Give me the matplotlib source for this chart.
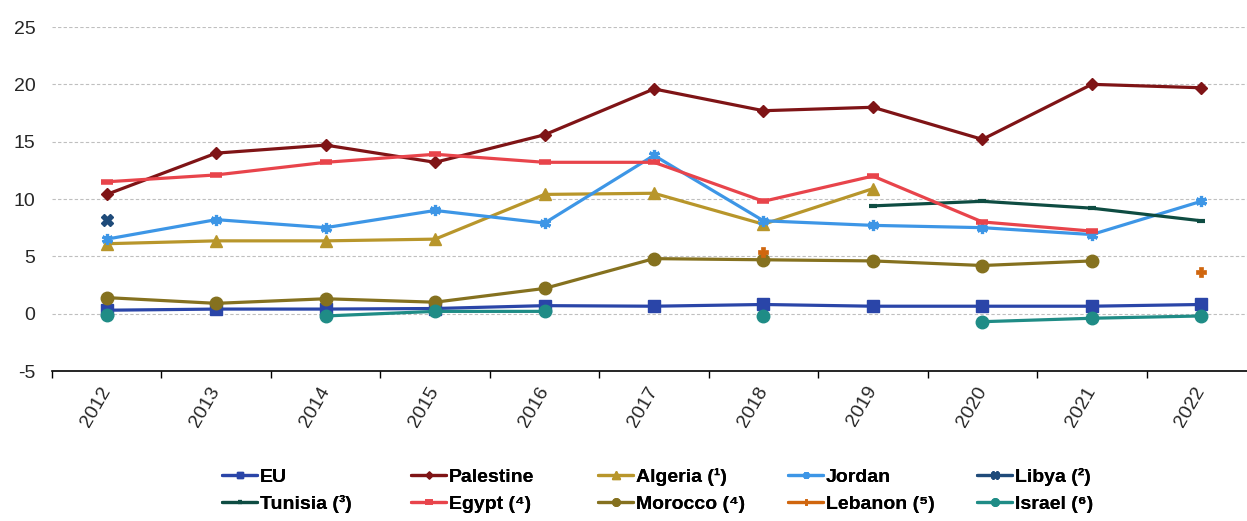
import numpy as np
import matplotlib
matplotlib.use("Agg")
import matplotlib.pyplot as plt
from matplotlib.ticker import FixedLocator, NullFormatter

nan = np.nan

years = [2012, 2013, 2014, 2015, 2016, 2017, 2018, 2019, 2020, 2021, 2022]

eu        = [0.3, 0.4, 0.4, 0.45, 0.7, 0.65, 0.8, 0.65, 0.65, 0.65, 0.8]
palestine = [10.4, 14.0, 14.7, 13.2, 15.6, 19.6, 17.7, 18.0, 15.2, 20.0, 19.7]
algeria   = [6.1, 6.35, 6.35, 6.5, 10.4, 10.5, 7.8, 10.9, nan, nan, nan]
jordan    = [6.5, 8.2, 7.5, 9.0, 7.9, 13.8, 8.1, 7.7, 7.5, 6.9, 9.8]
libya     = [8.2, nan, nan, nan, nan, nan, nan, nan, nan, nan, nan]
tunisia   = [nan, nan, nan, nan, nan, nan, nan, 9.4, 9.8, 9.2, 8.1]
egypt     = [11.5, 12.1, 13.2, 13.9, 13.2, 13.2, 9.8, 12.0, 8.0, 7.2, nan]
morocco   = [1.4, 0.9, 1.3, 1.0, 2.2, 4.8, 4.7, 4.6, 4.2, 4.6, nan]
lebanon   = [nan, nan, nan, nan, nan, nan, 5.4, nan, nan, nan, 3.6]
israel    = [-0.1, nan, -0.2, 0.2, 0.2, nan, -0.2, nan, -0.7, -0.4, -0.2]

labels = ["EU", "Palestine", "Algeria (¹)", "Jordan", "Libya (²)",
          "Tunisia (³)", "Egypt (⁴)", "Morocco (⁴)", "Lebanon (⁵)", "Israel (⁶)"]

series = [eu, palestine, algeria, jordan, libya,
          tunisia, egypt, morocco, lebanon, israel]

styles = [
    dict(color="#2A45A8", marker="s", ms=8, mew=1),
    dict(color="#7F1416", marker="D", ms=6, mew=1),
    dict(color="#B8962B", marker="^", ms=9, mew=1),
    dict(color="#3D96E6", marker=(6, 2, 0), ms=8, mew=2.3),
    dict(color="#1F4B7A", marker="X", ms=9, mew=1),
    dict(color="#0E4C42", marker="_", ms=6, mew=3),
    dict(color="#E8444B", marker="_", ms=9, mew=4),
    dict(color="#85711F", marker="o", ms=9, mew=1),
    dict(color="#D0660E", marker="P", ms=7, mew=0.5),
    dict(color="#1F8C86", marker="o", ms=9, mew=1),
]

plt.rcParams["font.family"] = ["Liberation Sans", "DejaVu Sans"]

fig = plt.figure(figsize=(12.47, 5.21), dpi=100)
ax = fig.add_axes([52 / 1247, 1 - 371 / 521, (1256 - 52) / 1247, (371 - 27) / 521])

lines = []
for vals, st, lab in zip(series, styles, labels):
    (ln,) = ax.plot(years, vals, color=st["color"], lw=2.3, marker=st["marker"],
                    ms=st["ms"], mew=st["mew"], mec=st["color"], mfc=st["color"],
                    label=lab, solid_capstyle="round", clip_on=False)
    lines.append(ln)

ax.set_xlim(2011.5, 2022.5)
ax.set_ylim(-5, 25)
ax.set_yticks([-5, 0, 5, 10, 15, 20, 25])
ax.set_yticklabels(["-5", "0", "5", "10", "15", "20", "25"])
ax.yaxis.grid(True, color="#BFBFBF", lw=0.8, ls=(0, (3, 2)))
ax.set_axisbelow(True)

ax.set_xticks(years)
ax.set_xticklabels([str(y) for y in years], rotation=60, ha="right",
                   va="center", rotation_mode="anchor")
ax.xaxis.set_minor_locator(FixedLocator([y - 0.5 for y in years] + [2022.5]))
ax.xaxis.set_minor_formatter(NullFormatter())
ax.tick_params(axis="x", which="major", length=0, pad=12, labelsize=14, labelcolor="#262626")
ax.tick_params(axis="x", which="minor", length=5, width=1, color="black", direction="out")
ax.tick_params(axis="y", length=0, pad=12, labelsize=14, labelcolor="#262626")

for s in ["left", "right", "top"]:
    ax.spines[s].set_visible(False)
ax.spines["bottom"].set_color("black")
ax.spines["bottom"].set_linewidth(1.2)

# legend: five equal-width columns, two rows
col_x = [222, 411, 598, 788, 977]
row_y = [477, 504]
for i, (ln, lab) in enumerate(zip(lines, labels)):
    r, c = divmod(i, 5)
    leg = fig.legend([ln], [lab], loc="center left",
                     bbox_to_anchor=(col_x[c] / 1247, 1 - row_y[r] / 521),
                     frameon=False, borderpad=0, borderaxespad=0,
                     handlelength=1.8, handletextpad=0.15, markerscale=0.6,
                     prop=dict(weight="bold", size=14))
    fig.add_artist(leg)

fig.savefig("out.png", dpi=100)
